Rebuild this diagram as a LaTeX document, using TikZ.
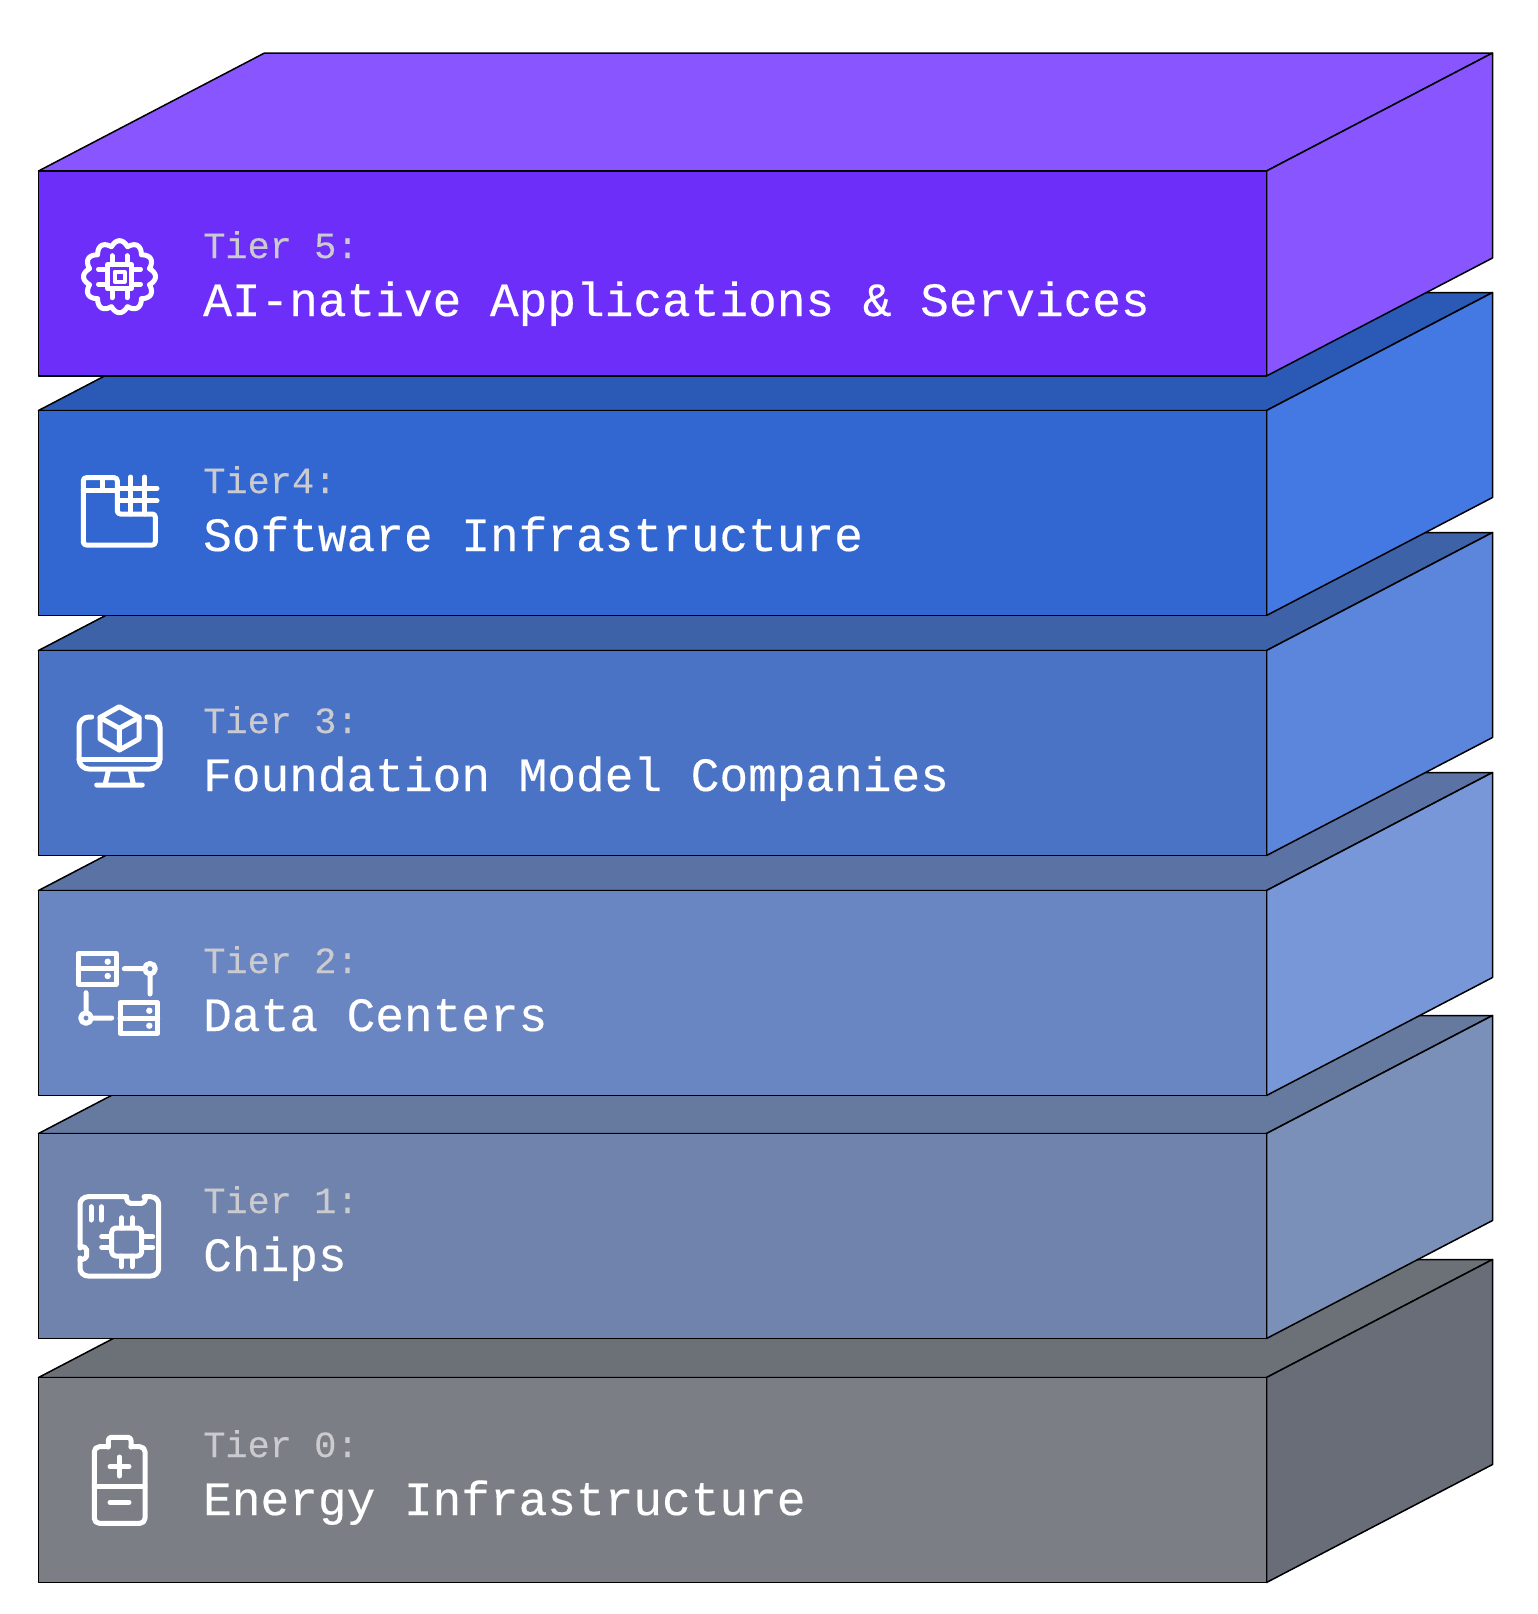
\documentclass[tikz,border=0pt]{standalone}
\usepackage{fontspec}
\setmainfont[FakeBold=0.3]{Liberation Mono}
\definecolor{frontE}{HTML}{6C2EF8}
\definecolor{topE}{HTML}{8855FF}
\definecolor{sideE}{HTML}{8855FF}
\definecolor{frontD}{HTML}{3267D1}
\definecolor{topD}{HTML}{2B5AB6}
\definecolor{sideD}{HTML}{4478E2}
\definecolor{frontC}{HTML}{4A72C5}
\definecolor{topC}{HTML}{3D62A8}
\definecolor{sideC}{HTML}{5C86DC}
\definecolor{frontB}{HTML}{6985C2}
\definecolor{topB}{HTML}{5A72A4}
\definecolor{sideB}{HTML}{7897D8}
\definecolor{frontA}{HTML}{6F83AC}
\definecolor{topA}{HTML}{667A9F}
\definecolor{sideA}{HTML}{7B90B8}
\definecolor{frontO}{HTML}{7B7E85}
\definecolor{topO}{HTML}{6C7178}
\definecolor{sideO}{HTML}{696D77}
\definecolor{labelgrey}{HTML}{CBCBCF}
\tikzset{
  face/.style={draw=black,line width=1.5pt,line join=round},
  tierlabel/.style={anchor=base west,inner sep=0pt,text=labelgrey,font=\fontsize{37}{40}\selectfont},
  tiertitle/.style={anchor=base west,inner sep=0pt,text=white,font=\fontsize{47.8}{52}\selectfont},
  tiericon/.style={draw=white,line width=5pt,line cap=round,line join=round}
}
\begin{document}
\begin{tikzpicture}[x=1pt,y=-1pt]
  \useasboundingbox (0,0) rectangle (1538,1614);
  % slabs, lowest first: letter / front top / label baseline / number / name
  \foreach \t/\y/\b/\num/\name in {
    O/1377.5/1457/Tier 0:/Energy Infrastructure,
    A/1133.5/1213/Tier 1:/Chips,
    B/890.5/973/Tier 2:/Data Centers,
    C/650.5/733/Tier 3:/Foundation Model Companies,
    D/410.5/493/Tier4:/Software Infrastructure,
    E/171/258/Tier 5:/AI-native Applications \& Services
  }{
    \path[face,fill=top\t] (38.5,\y) -- ++(226,-118) -- ++(1228,0) -- ++(-226,118) -- cycle; % top
    \path[face,fill=side\t] (1266.5,\y) -- ++(226,-118) -- ++(0,205) -- ++(-226,118) -- cycle; % side
    \path[face,fill=front\t] (38.5,\y) rectangle ++(1228,205); % front
    \node[tierlabel] (label\t) at (203,\b) {\num};
    \node[tiertitle] (title\t) at (203,\b+58) {\name};
  }
  % tier 5 icon
  \begin{scope}[shift={(119.5,276.7)}]
    \draw[tiericon] plot[domain=0:360,samples=145] ({(31+5*abs(cos(6*\x)))*cos(\x)},{(31+5*abs(cos(6*\x)))*sin(\x)}) -- cycle;
    \draw[tiericon] (-12,-12) rectangle (12,12);
    \draw[tiericon,line width=4pt] (-5,-5) rectangle (5,5);
    \foreach \p in {-7.5,7.5}{
      \draw[tiericon] (\p,-12) -- (\p,-21) (\p,12) -- (\p,21) (-12,\p) -- (-21,\p) (12,\p) -- (21,\p);
    }
  \end{scope}
  % tier 4 icon
  \draw[tiericon,rounded corners=3pt] (117.3,477.7) -- (83.3,477.7) -- (83.3,545) -- (155.3,545) -- (155.3,514) -- (117.3,514) -- cycle;
  \draw[tiericon] (83.3,490) -- (117.3,490) (102.7,477.7) -- (102.7,490);
  \draw[tiericon] (130.7,477) -- (130.7,514) (144.7,477) -- (144.7,514) (117.3,488.3) -- (157,488.3) (117.3,500.7) -- (157,500.7);
  % tier 3 icon
  \draw[tiericon,rounded corners=10pt] (91.7,717) -- (79,717) -- (79,769) -- (160,769) -- (160,717) -- (147,717);
  \draw[tiericon] (79,759) -- (160,759);
  \draw[tiericon] (108.3,771) -- (105,785) (130.5,771) -- (133.5,785) (96.7,785) -- (142.3,785);
  \draw[tiericon] (119.3,706.7) -- (139,717.5) -- (139,739) -- (119.3,750) -- (100,739) -- (100,717.5) -- cycle;
  \draw[tiericon] (100,717.5) -- (119.3,728.3) -- (139,717.5) (119.3,728.3) -- (119.3,750);
  % tier 2 icon
  \draw[tiericon] (78.3,953.3) rectangle (116,984) (78.3,968.7) -- (116,968.7);
  \draw[tiericon] (120,1002.7) rectangle (157.7,1033.3) (120,1018) -- (157.7,1018);
  \fill[white] (107.7,961.7) circle (3.2pt) (107.7,976) circle (3.2pt) (149.3,1010.7) circle (3.2pt) (149.3,1025.7) circle (3.2pt);
  \draw[tiericon] (150,968.7) circle (5.3pt) (124.3,968.7) -- (144.7,968.7) (150,974) -- (150,994);
  \draw[tiericon] (86,1018) circle (5.3pt) (86,992.7) -- (86,1012.7) (91.3,1018) -- (111.7,1018);
  % tier 1 icon
  \draw[tiericon,rounded corners=8pt] (126.7,1196.7) -- (80,1196.7) -- (80,1248);
  \draw[tiericon,rounded corners=2pt] (80,1246) -- (86.7,1248) -- (86.7,1258) -- (80,1260);
  \draw[tiericon,rounded corners=8pt] (80,1258) -- (80,1276) -- (158.7,1276) -- (158.7,1196.7) -- (144,1196.7);
  \draw[tiericon,rounded corners=2pt] (126,1196.7) -- (128,1203.3) -- (144,1203.3) -- (146,1196.7);
  \draw[tiericon] (91,1206.7) -- (91,1220) (101.3,1206.7) -- (101.3,1220);
  \draw[tiericon,rounded corners=4pt] (111.7,1228) rectangle (141.7,1256);
  \foreach \p in {121.7,132.3}{
    \draw[tiericon] (\p,1217.7) -- (\p,1228) (\p,1256) -- (\p,1266.7);
  }
  \foreach \p in {1236.7,1247.3}{
    \draw[tiericon] (101.7,\p) -- (111.7,\p) (141.7,\p) -- (152.7,\p);
  }
  % tier 0 icon
  \draw[tiericon,rounded corners=5pt] (108.3,1446.7) -- (94.3,1446.7) -- (94.3,1523.3) -- (145,1523.3) -- (145,1446.7) -- (131,1446.7);
  \draw[tiericon,rounded corners=3pt] (108.3,1447) -- (108.3,1437.3) -- (131,1437.3) -- (131,1447);
  \draw[tiericon] (94.3,1486.7) -- (145,1486.7);
  \draw[tiericon] (110,1466.7) -- (129,1466.7) (119.3,1457) -- (119.3,1476) (110,1502.3) -- (129,1502.3);
\end{tikzpicture}
\end{document}
